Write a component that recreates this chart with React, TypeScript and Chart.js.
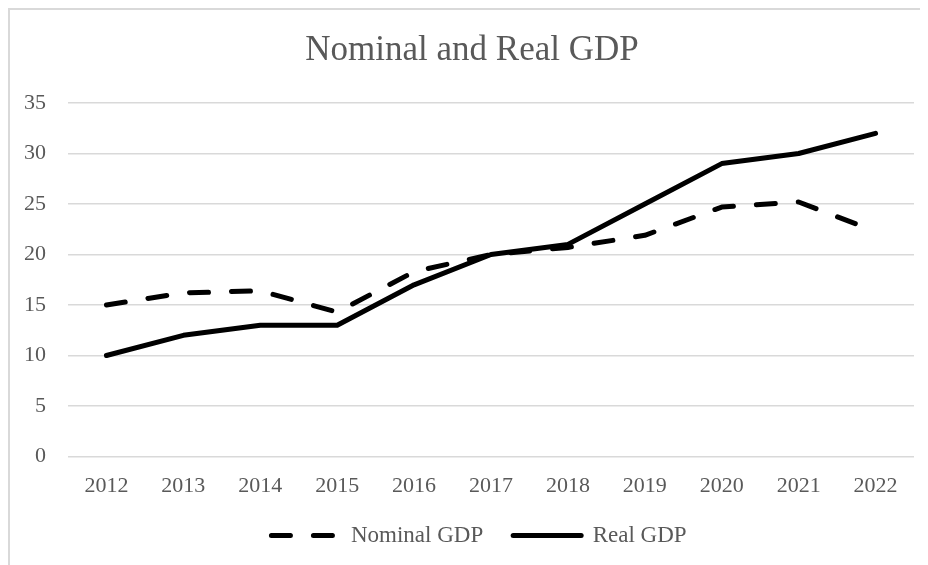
import React, { useEffect, useRef } from "react";
import { Chart, registerables } from "chart.js";

Chart.register(...registerables);

const years = ["2012", "2013", "2014", "2015", "2016", "2017", "2018", "2019", "2020", "2021", "2022"];
const nominalGDP = [15, 16.2, 16.4, 14.3, 18.3, 20, 20.7, 21.9, 24.7, 25.2, 22.3];
const realGDP = [10, 12, 13, 13, 17, 20, 21, 25, 29, 30, 32];
const yTicks = [0, 5, 10, 15, 20, 25, 30, 35];

const FONT = "'Liberation Serif', 'Times New Roman', serif";
const TEXT = "#595959";
const DASH = [19, 23];

const shiftBoxes = {
  id: "shiftBoxes",
  afterLayout(chart: any) {
    const lg = chart.legend;
    if (lg) {
      lg.left += 11;
      lg.right += 11;
    }
    const tb = chart.titleBlock;
    if (tb) {
      tb.left += 4;
      tb.right += 4;
    }
  },
};

export default function App() {
  const ref = useRef<HTMLCanvasElement | null>(null);

  useEffect(() => {
    if (!ref.current) return;
    const chart = new Chart(ref.current, {
      type: "line",
      data: {
        labels: years,
        datasets: [
          {
            label: "Nominal GDP",
            data: nominalGDP,
            borderColor: "#000000",
            backgroundColor: "#000000",
            borderWidth: 5,
            borderDash: DASH,
            borderCapStyle: "round",
            borderJoinStyle: "round",
            pointRadius: 0,
            pointStyle: "line",
            tension: 0,
            fill: false,
          },
          {
            label: "Real GDP",
            data: realGDP,
            borderColor: "#000000",
            backgroundColor: "#000000",
            borderWidth: 5,
            borderCapStyle: "round",
            borderJoinStyle: "round",
            pointRadius: 0,
            pointStyle: "line",
            tension: 0,
            fill: false,
          },
        ],
      },
      plugins: [shiftBoxes],
      options: {
        animation: false,
        responsive: true,
        maintainAspectRatio: false,
        layout: { padding: { left: 12, right: 14, top: 0, bottom: 8 } },
        plugins: {
          tooltip: { enabled: false },
          title: {
            display: true,
            text: "Nominal and Real GDP",
            color: TEXT,
            font: { family: FONT, size: 35, weight: "normal", lineHeight: 1.2 },
            padding: { top: 20, bottom: 31 },
          },
          legend: {
            display: true,
            position: "bottom",
            labels: {
              usePointStyle: true,
              pointStyleWidth: 68,
              boxHeight: 23,
              color: TEXT,
              padding: 30,
              font: { family: FONT, size: 23, lineHeight: 1.2 },
              generateLabels: (c: any) => {
                const items = Chart.defaults.plugins.legend.labels.generateLabels(c);
                return items.map((it: any) => {
                  const ds: any = c.data.datasets[it.datasetIndex];
                  return {
                    ...it,
                    lineDash: ds.borderDash || [],
                    lineCap: "round",
                    lineWidth: 5,
                    strokeStyle: "#000000",
                    fillStyle: "#000000",
                    pointStyle: "line",
                  };
                });
              },
            },
          },
        },
        scales: {
          x: {
            type: "category",
            offset: true,
            grid: { display: false, drawTicks: false },
            border: { display: false },
            ticks: {
              color: TEXT,
              padding: 17,
              maxRotation: 0,
              autoSkip: false,
              font: { family: FONT, size: 22, lineHeight: 1.2 },
            },
            afterFit: (s: any) => {
              s.height = 37.5;
            },
          },
          y: {
            min: 0,
            max: 35,
            afterBuildTicks: (s: any) => {
              s.ticks = yTicks.map((v) => ({ value: v }));
            },
            grid: { color: "#d9d9d9", lineWidth: 1.5, drawTicks: false },
            border: { display: false },
            ticks: {
              color: TEXT,
              padding: 22,
              font: { family: FONT, size: 22, lineHeight: 1.2 },
            },
            afterFit: (s: any) => {
              s.width = 46;
            },
          },
        },
      },
    });
    return () => chart.destroy();
  }, []);

  return (
    <div
      style={{
        width: 918,
        height: 555,
        borderTop: "2px solid #d9d9d9",
        borderLeft: "2px solid #d9d9d9",
        position: "relative",
        boxSizing: "content-box",
      }}
    >
      <canvas ref={ref} />
    </div>
  );
}
